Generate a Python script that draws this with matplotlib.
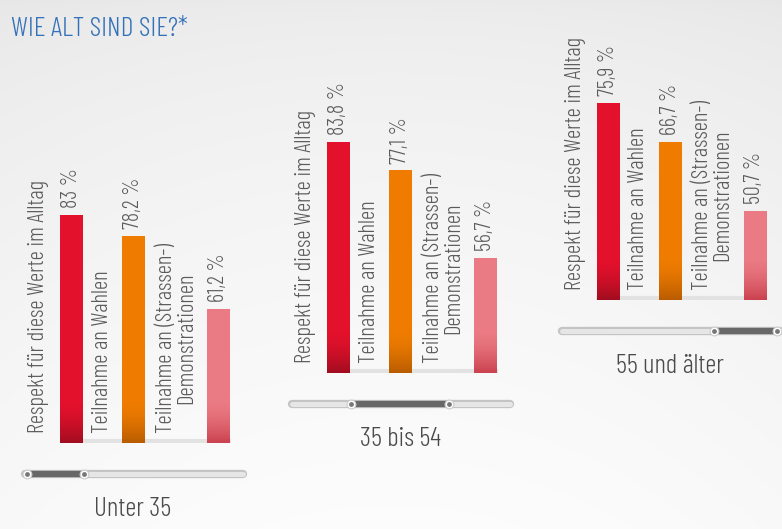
import numpy as np
import matplotlib.pyplot as plt
from matplotlib.colors import to_rgb

plt.rcParams['font.family'] = ['Barlow Condensed', 'DejaVu Sans']
plt.rcParams['font.weight'] = 300

# Umfrage: Wie wichtig ist ... nach Altersgruppe (in %)
groups = ['Unter 35', '35 bis 54', '55 und älter']
categories = ['Respekt für diese Werte im Alltag',
              'Teilnahme an Wahlen',
              'Teilnahme an (Strassen-)\nDemonstrationen']
unter_35 = [83.0, 78.2, 61.2]
mitte_35_54 = [83.8, 77.1, 56.7]
ab_55 = [75.9, 66.7, 50.7]
series = [unter_35, mitte_35_54, ab_55]

bar_colors = ['#e3112c', '#ef7c00', '#ea7a83']
shade_colors = ['#8e0c1c', '#a95300', '#c1303f']
text_gray = '#5a5a5a'

W, H = 782, 529
base = 30.0        # untere Grenze der Werteachse
px_per_unit = 4.3  # Pixel je Prozentpunkt

# Gruppenlage in Pixeln: linker Rand, Grundlinie
group_left = [0, 267, 536.5]
group_base = [443, 373, 300]
slots = [71.5, 133.5, 218.5]
label_dx = [-33, -31, -42]
slider_span = [(0.01, 0.27), (0.27, 0.72), (0.70, 0.99)]


def fmt(v):
    s = f'{v:g}'.replace('.', ',')
    return s + ' %'


fig = plt.figure(figsize=(W / 100, H / 100), dpi=100)

# Hintergrund mit leichtem Verlauf
bg = fig.add_axes([0, 0, 1, 1])
bg.set_xlim(0, W)
bg.set_ylim(H, 0)
bg.axis('off')
yy = np.linspace(0, 1, 200)[:, None]
xx = np.linspace(-1, 1, 300)[None, :]
shade = 0.905 + 0.07 * yy ** 0.6 + 0.015 * (1 - xx ** 2)
shade = np.clip(shade, 0, 1)
bg.imshow(np.dstack([shade] * 3), extent=(0, W, H, 0), aspect='auto', zorder=0)

bg.text(11, 29, 'WIE ALT SIND SIE?*', color='#3471b9', fontsize=20,
        ha='left', va='center')

for g, vals in enumerate(series):
    L, Y = group_left[g], group_base[g]
    ax = fig.add_axes([L / W, (H - Y) / H, 250 / W, Y / H])
    ax.patch.set_alpha(0)
    ax.axis('off')

    # leichter Schatten entlang der Grundlinie
    ax.plot([slots[0] - 12, slots[2] + 12], [base + 0.4, base + 0.4],
            color='#e2e2e2', lw=3, solid_capstyle='butt', zorder=1)

    bars = ax.bar(slots, np.array(vals) - base, bottom=base, width=23,
                  color=bar_colors, zorder=3)

    # dunkler Verlauf am Fuss jedes Balkens
    for patch, dark in zip(bars, shade_colors):
        x0 = patch.get_x()
        x1 = x0 + patch.get_width()
        grad = np.zeros((64, 1, 4))
        grad[..., :3] = to_rgb(dark)
        grad[:, 0, 3] = np.linspace(0, 0.85, 64) ** 1.6
        im = ax.imshow(grad, extent=(x0, x1, base, base + 42 / px_per_unit),
                       aspect='auto', origin='upper', zorder=4)
        im.set_clip_path(patch)

    for x, v in zip(slots, vals):
        ax.annotate(fmt(v), (x, v), xytext=(0, 5), textcoords='offset points',
                    rotation=90, ha='center', va='bottom', fontsize=16,
                    color=text_gray, zorder=5)

    for x, dx, cat in zip(slots, label_dx, categories):
        ax.annotate(cat, (x + dx, base), xytext=(0, 7), textcoords='offset points',
                    rotation=90, ha='center', va='bottom', fontsize=16.5,
                    color=text_gray, linespacing=0.95, zorder=5)

    ax.set_xlim(0, 250)
    ax.set_ylim(base, base + Y / px_per_unit)

    # Schieberegler unter der Gruppe
    sy = Y + 31
    sx0, sx1 = L + 25, L + 243
    bg.plot([sx0, sx1], [sy, sy], color='#c4c4c4', lw=6, solid_capstyle='round', zorder=2)
    bg.plot([sx0, sx1], [sy, sy], color='#e6e6e6', lw=3.6, solid_capstyle='round', zorder=2)
    f0, f1 = slider_span[g]
    d0 = sx0 + f0 * (sx1 - sx0)
    d1 = sx0 + f1 * (sx1 - sx0)
    bg.plot([d0, d1], [sy, sy], color='#686868', lw=4.5, solid_capstyle='butt', zorder=3)
    bg.scatter([d0, d1], [sy, sy], s=40, color='white', edgecolor='#cccccc',
               linewidth=0.8, zorder=4)
    bg.scatter([d0, d1], [sy, sy], s=6, color='#777777', zorder=5)

    bg.text(L + 133, Y + 66, groups[g], fontsize=19.5, color='#4a4a4a',
            ha='center', va='center')

fig.savefig('out.png', dpi=100)
